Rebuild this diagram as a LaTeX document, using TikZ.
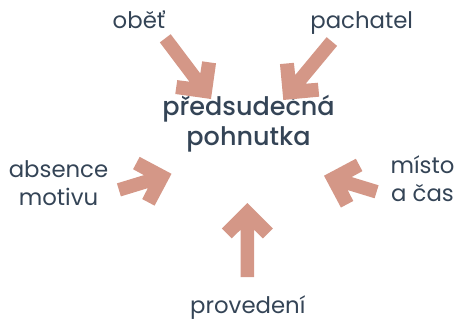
\documentclass[tikz,border=0pt]{standalone}
\usepackage{fontspec}
\setmainfont{Poppins}
\newfontfamily\ctrfont{Poppins Medium}
\definecolor{arrowcol}{HTML}{D49787}
\definecolor{textcol}{HTML}{344456}
\tikzset{
  pics/blockarrow/.style={code={
    \fill[arrowcol] (0,0) -- (-25.5,25.5) -- (-35.4,15.6) -- (-26.8,6.8) -- (-#1,6.8)
      -- (-#1,-6.8) -- (-26.8,-6.8) -- (-35.4,-15.6) -- (-25.5,-25.5) -- cycle;
  }},
  lbl/.style={text=textcol, anchor=base, align=center, inner sep=0pt,
    font=\fontsize{22.8}{28.5}\selectfont},
  ctr/.style={text=textcol, anchor=base, align=center, inner sep=0pt,
    font=\fontsize{25.5}{29.5}\selectfont\ctrfont}
}
\begin{document}
\begin{tikzpicture}[x=1pt,y=-1pt]
\useasboundingbox (0,0) rectangle (457,323);
\node[ctr] (c) at (248.5,145.5) {předsudečná\\pohnutka};
\node[lbl] (obet) at (139,28.3) {oběť};
\node[lbl] (pach) at (361.7,28.3) {pachatel};
\node[lbl] (abs) at (58.5,205.5) {absence\\motivu};
\node[lbl] (misto) at (422.5,201.7) {místo\\a čas};
\node[lbl] (prov) at (247.8,313) {provedení};
\pic[rotate=-53] (a1) at (211,99) {blockarrow=76};
\pic[rotate=-129.7] (a2) at (283.3,100) {blockarrow=76};
\pic[rotate=17] (a3) at (171.5,173.8) {blockarrow=55};
\pic[rotate=163] (a4) at (324,175.7) {blockarrow=55};
\pic[rotate=90] (a5) at (247.3,203) {blockarrow=74};
\end{tikzpicture}
\end{document}
